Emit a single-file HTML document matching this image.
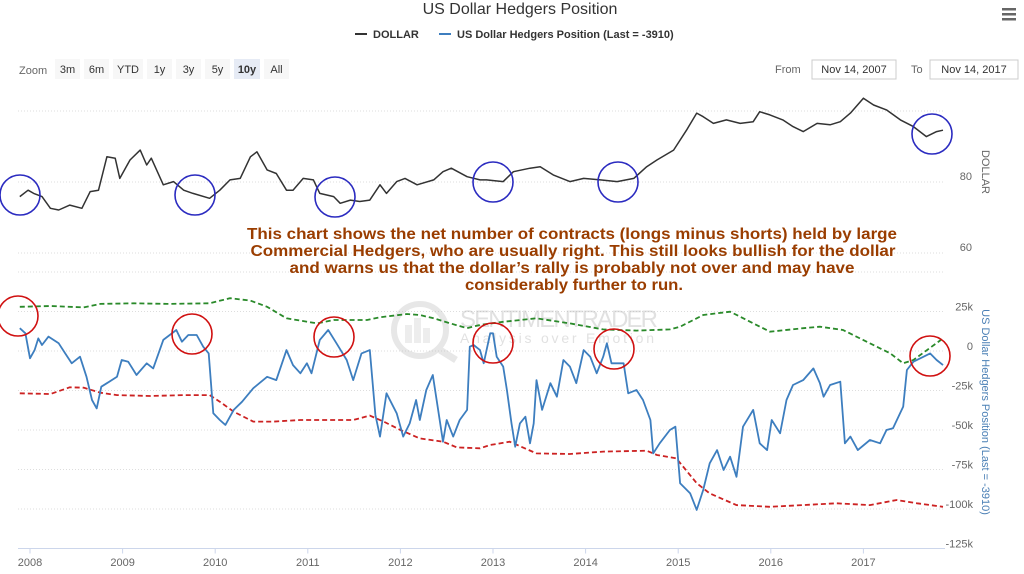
<!DOCTYPE html>
<html><head><meta charset="utf-8">
<style>
html,body{margin:0;padding:0;background:#fff;}
body{width:1024px;height:569px;overflow:hidden;font-family:"Liberation Sans",Arial,sans-serif;}
svg text{font-family:"Liberation Sans",Arial,sans-serif;}
</style></head>
<body>
<svg id="chart" width="1024" height="569" viewBox="0 0 1024 569" xmlns="http://www.w3.org/2000/svg">
  <text x="520" y="14" text-anchor="middle" font-size="16" fill="#333">US Dollar Hedgers Position</text>
  <g fill="#666">
    <rect x="1002" y="8" width="14" height="2.5"/><rect x="1002" y="13" width="14" height="2.5"/><rect x="1002" y="18" width="14" height="2.5"/>
  </g>
  <g>
    <line x1="355" y1="34" x2="367" y2="34" stroke="#333" stroke-width="2"/>
    <text x="373" y="38" font-size="11" font-weight="bold" fill="#333">DOLLAR</text>
  </g>
  <g>
    <line x1="439" y1="34" x2="451" y2="34" stroke="#3d7ebf" stroke-width="2"/>
    <text x="457" y="38" font-size="11" font-weight="bold" fill="#333">US Dollar Hedgers Position (Last = -3910)</text>
  </g>
  <text x="19" y="74" font-size="11" fill="#666">Zoom</text>
  <g id="zoombtns"></g>
  <text x="775" y="73" font-size="11" fill="#666">From</text>
  <rect x="812" y="60" width="84" height="19" fill="#fff" stroke="#ccc"/>
  <text x="854" y="73" text-anchor="middle" font-size="11" fill="#333">Nov 14, 2007</text>
  <text x="911" y="73" font-size="11" fill="#666">To</text>
  <rect x="930" y="60" width="88" height="19" fill="#fff" stroke="#ccc"/>
  <text x="974" y="73" text-anchor="middle" font-size="11" fill="#333">Nov 14, 2017</text>
  <g id="grid"></g>
  <g id="watermark" opacity="0.35">
    <circle cx="420" cy="330" r="26" fill="none" stroke="#bbb" stroke-width="6"/>
    <line x1="440" y1="350" x2="456" y2="360" stroke="#bbb" stroke-width="7"/>
    <rect x="405" y="325" width="7" height="18" fill="#ccc"/><rect x="414" y="318" width="7" height="25" fill="#ccc"/><rect x="423" y="328" width="7" height="15" fill="#ccc"/>
    <text x="460" y="327" font-size="24" fill="#aaa" textLength="198">SENTIMENTRADER</text>
    <text x="460" y="343" font-size="14" fill="#aaa" textLength="198" letter-spacing="4">Analysis over Emotion</text>
  </g>
  <g id="series"></g>
  <g id="axes"></g>
  <g id="annot" fill="none" stroke-width="1.6"></g>
  <g font-size="16" font-weight="bold" fill="#9a3d00" text-anchor="middle">
    <text x="572" y="239" textLength="650" lengthAdjust="spacingAndGlyphs">This chart shows the net number of contracts (longs minus shorts) held by large</text>
    <text x="573" y="256" textLength="645" lengthAdjust="spacingAndGlyphs">Commercial Hedgers, who are usually right. This still looks bullish for the dollar</text>
    <text x="572" y="273" textLength="565" lengthAdjust="spacingAndGlyphs">and warns us that the dollar’s rally is probably not over and may have</text>
    <text x="574" y="290" textLength="218" lengthAdjust="spacingAndGlyphs">considerably further to run.</text>
  </g>
</svg>
<script>
const dollarT=[2007.89,2007.98,2008.04,2008.13,2008.22,2008.31,2008.43,2008.56,2008.65,2008.74,2008.83,2008.92,2008.97,2009.08,2009.19,2009.26,2009.31,2009.44,2009.55,2009.66,2009.76,2009.94,2010.05,2010.16,2010.27,2010.38,2010.45,2010.56,2010.66,2010.77,2010.84,2010.95,2011.06,2011.13,2011.28,2011.35,2011.46,2011.56,2011.67,2011.78,2011.85,2011.96,2012.05,2012.18,2012.36,2012.46,2012.55,2012.72,2012.86,2012.93,2013.11,2013.22,2013.40,2013.51,2013.65,2013.83,2013.98,2014.16,2014.34,2014.52,2014.66,2014.77,2014.95,2015.09,2015.20,2015.27,2015.38,2015.52,2015.67,2015.81,2015.88,2015.99,2016.13,2016.24,2016.35,2016.50,2016.64,2016.75,2016.86,2017.00,2017.11,2017.25,2017.40,2017.54,2017.68,2017.79,2017.86];
const dollarV=[75.9,77.7,76.8,75.9,72.6,72.1,73.5,72.6,77.3,77.7,87.1,86.7,81.0,86.2,89.0,84.8,86.7,79.2,80.1,77.7,76.8,75.4,77.7,80.6,81.0,87.1,88.5,83.4,82.4,77.7,77.7,81.0,80.6,76.8,75.9,74.0,74.9,74.5,74.9,79.2,76.8,80.1,81.0,79.2,80.6,82.9,83.9,81.5,80.6,80.6,80.1,82.9,83.9,84.3,82.0,80.1,81.0,80.6,80.1,81.0,84.3,86.2,89.0,94.6,99.4,98.4,96.5,97.5,96.5,97.0,99.8,98.9,97.5,95.6,94.2,96.5,96.1,97.0,99.4,103.6,101.7,100.3,97.5,95.6,92.8,94.2,94.6];
const hedgeT=[2007.89,2007.95,2008.00,2008.05,2008.09,2008.13,2008.20,2008.31,2008.38,2008.45,2008.54,2008.61,2008.67,2008.72,2008.77,2008.83,2008.94,2008.99,2009.06,2009.15,2009.26,2009.33,2009.44,2009.58,2009.64,2009.71,2009.80,2009.87,2009.93,2009.98,2010.05,2010.11,2010.20,2010.29,2010.41,2010.56,2010.66,2010.77,2010.84,2010.92,2010.99,2011.04,2011.13,2011.22,2011.31,2011.42,2011.49,2011.58,2011.67,2011.73,2011.78,2011.85,2011.96,2012.03,2012.10,2012.17,2012.21,2012.28,2012.35,2012.43,2012.46,2012.50,2012.57,2012.64,2012.72,2012.75,2012.79,2012.86,2012.90,2012.97,2013.00,2013.04,2013.11,2013.15,2013.20,2013.24,2013.29,2013.35,2013.40,2013.44,2013.47,2013.53,2013.62,2013.69,2013.76,2013.83,2013.90,2013.98,2014.05,2014.12,2014.19,2014.23,2014.28,2014.41,2014.46,2014.55,2014.62,2014.70,2014.73,2014.80,2014.91,2014.97,2015.02,2015.13,2015.20,2015.27,2015.34,2015.42,2015.49,2015.56,2015.63,2015.70,2015.81,2015.88,2015.96,2016.01,2016.10,2016.17,2016.24,2016.35,2016.46,2016.53,2016.57,2016.64,2016.75,2016.80,2016.86,2016.94,2017.07,2017.18,2017.25,2017.32,2017.43,2017.47,2017.54,2017.65,2017.72,2017.79,2017.86];
const hedgeV=[14.4,11.2,-4.6,0.6,8.0,3.8,9.1,4.9,-1.5,-7.8,-3.6,-16.3,-31.0,-36.3,-22.6,-20.4,-16.3,-5.7,-6.8,-15.2,-7.8,-11.0,7.0,13.3,5.9,10.1,10.1,2.7,-1.5,-39.4,-43.7,-46.8,-37.3,-32.1,-23.6,-16.3,-18.4,0.6,-8.9,-14.1,-7.8,-14.1,7.0,13.3,4.9,-5.7,-18.4,-1.5,0.6,-40.5,-54.2,-26.8,-39.4,-54.2,-45.8,-31.0,-43.7,-24.7,-15.2,-45.8,-57.4,-43.7,-54.2,-43.7,-37.3,2.7,3.8,0.6,-7.8,11.2,11.2,-3.6,-9.9,-24.7,-45.8,-60.6,-45.8,-41.6,-58.4,-45.8,-18.4,-37.3,-20.4,-28.9,-5.7,-9.9,-20.4,0.6,-3.6,-14.1,-3.6,4.9,-7.8,-7.8,-26.8,-24.7,-31.0,-43.7,-64.8,-58.4,-50.0,-47.9,-83.7,-90.1,-100.6,-88.0,-71.1,-62.7,-75.3,-66.9,-79.6,-47.9,-37.3,-58.4,-62.7,-43.7,-52.1,-31.0,-21.5,-18.4,-11.0,-20.4,-28.9,-21.5,-19.4,-58.4,-54.2,-62.7,-56.3,-58.4,-50.0,-48.9,-35.2,-12.0,-6.8,-3.6,-1.5,-5.7,-8.9];
const upperT=[2007.89,2008.22,2008.58,2008.76,2009.12,2009.48,2009.94,2010.16,2010.38,2010.56,2010.77,2011.10,2011.28,2011.64,2011.78,2012.07,2012.21,2012.36,2012.54,2012.72,2012.86,2013.11,2013.47,2013.83,2014.19,2014.55,2014.91,2015.02,2015.27,2015.56,2015.74,2015.99,2016.35,2016.53,2016.78,2017.07,2017.29,2017.43,2017.54,2017.86];
const upperV=[28.0,28.5,27.6,29.8,30.2,29.8,30.2,33.4,31.9,28.0,20.7,17.5,19.6,19.6,21.3,23.4,22.8,20.7,17.5,14.4,16.5,18.5,20.7,17.5,13.7,12.9,13.7,15.4,22.8,24.9,19.6,12.2,14.4,15.4,13.3,4.9,-1.5,-7.8,-5.7,8.0];
const lowerT=[2007.89,2008.22,2008.43,2008.58,2008.76,2008.94,2009.30,2009.66,2009.94,2010.05,2010.20,2010.41,2010.63,2010.92,2011.28,2011.49,2011.67,2011.82,2012.00,2012.21,2012.46,2012.61,2012.86,2012.97,2013.18,2013.47,2013.83,2014.19,2014.66,2014.77,2014.98,2015.20,2015.34,2015.63,2015.99,2016.71,2017.07,2017.36,2017.58,2017.86];
const lowerV=[-26.8,-27.2,-23.0,-23.2,-26.4,-27.9,-28.5,-27.9,-27.9,-32.1,-38.4,-44.7,-44.7,-43.7,-43.7,-43.7,-40.9,-44.7,-50.0,-55.3,-57.4,-61.0,-61.6,-59.5,-57.4,-64.8,-65.2,-63.7,-63.1,-65.8,-67.9,-83.7,-90.1,-97.5,-98.6,-96.4,-97.5,-94.3,-96.4,-98.6];
const yearTicks=[2008,2009,2010,2011,2012,2013,2014,2015,2016,2017];
const dollarTicks=[60,80,100];
const dollarTickLabels=["60","80",""];
const hedgeTicks=[50,25,0,-25,-50,-75,-100,-125];
const hedgeTickLabels=["","25k","0","-25k","-50k","-75k","-100k","-125k"];
const zoomLabels=["3m","6m","YTD","1y","3y","5y","10y","All"];

const NS="http://www.w3.org/2000/svg";
function xs(t){return 30+(t-2008)*92.6;}
function yD(v){return 182-(v-80)*3.55;}
function yH(v){return 351-v*1.58;}
function mk(tag,attrs,parent){const e=document.createElementNS(NS,tag);for(const k in attrs)e.setAttribute(k,attrs[k]);parent.appendChild(e);return e;}
const X0=18,X1=945;
const grid=document.getElementById('grid');
dollarTicks.forEach((v,i)=>{
  const l=mk('line',{x1:X0,x2:X1,y1:yD(v),y2:yD(v),stroke:'#ddd','stroke-dasharray':'1,2'},grid);
  
  
});
hedgeTicks.forEach((v,i)=>{
  if(v===-125)return;
  const l=mk('line',{x1:X0,x2:X1,y1:yH(v),y2:yH(v),stroke:'#ddd','stroke-dasharray':'1,2'},grid);
  
  
});
const axes=document.getElementById('axes');
const xl=mk('line',{x1:X0,x2:X1,y1:yH(-125),y2:yH(-125),stroke:'#ccd6eb'},axes);


yearTicks.forEach(y=>{
  mk('line',{x1:xs(y),x2:xs(y),y1:yH(-125),y2:yH(-125)+5,stroke:'#ccd6eb'},axes);
  const t=mk('text',{x:xs(y),y:566,'text-anchor':'middle','font-size':'11',fill:'#666'},axes);
  t.textContent=y;
  
  
});
dollarTicks.forEach((v,i)=>{
  const t=mk('text',{x:972,y:yD(v)-2,'text-anchor':'end','font-size':'11',fill:'#666'},axes);
  t.textContent=dollarTickLabels[i];
  
  
});
hedgeTicks.forEach((v,i)=>{
  const t=mk('text',{x:973,y:yH(v)-1,'text-anchor':'end','font-size':'11',fill:'#666'},axes);
  t.textContent=hedgeTickLabels[i];
  
  
});
let t1=mk('text',{x:0,y:0,transform:'translate(982,172) rotate(90)','text-anchor':'middle','font-size':'11',fill:'#666'},axes);
t1.textContent='DOLLAR';


let t2=mk('text',{x:0,y:0,transform:'translate(982,412) rotate(90)','text-anchor':'middle','font-size':'11',fill:'#4a7fb5'},axes);
t2.textContent='US Dollar Hedgers Position (Last = -3910)';



function path(T,V,yf){return T.map((t,i)=>(i?'L':'M')+xs(t).toFixed(1)+','+yf(V[i]).toFixed(1)).join(' ');}
const ser=document.getElementById('series');
let p=mk('path',{d:path(upperT,upperV,yH),fill:'none',stroke:'#2a8a2a','stroke-width':'1.8','stroke-dasharray':'5,3'},ser);


p=mk('path',{d:path(lowerT,lowerV,yH),fill:'none',stroke:'#cc2222','stroke-width':'1.8','stroke-dasharray':'5,3'},ser);


p=mk('path',{d:path(hedgeT,hedgeV,yH),fill:'none',stroke:'#3d7ebf','stroke-width':'1.8','stroke-linejoin':'round'},ser);


p=mk('path',{d:path(dollarT,dollarV,yD),fill:'none',stroke:'#333','stroke-width':'1.5','stroke-linejoin':'round'},ser);



const an=document.getElementById('annot');
[[20,195],[195,195],[335,197],[493,182],[618,182],[932,134]].forEach(c=>{
  const e=mk('circle',{cx:c[0],cy:c[1],r:20,stroke:'#2b2bc0'},an);
  
  
});
[[18,316],[192,334],[334,337],[493,343],[614,349],[930,356]].forEach(c=>{
  const e=mk('circle',{cx:c[0],cy:c[1],r:20,stroke:'#d01010'},an);
  
  
});

const zb=document.getElementById('zoombtns');
let zx=55;
zoomLabels.forEach(l=>{
  const w=l==='YTD'?30:(l==='10y'?26:25);
  const r=mk('rect',{x:zx,y:59,width:w,height:20,fill:l==='10y'?'#e6ebf5':'#f7f7f7'},zb);
  
  
  const t=mk('text',{x:zx+w/2,y:73,'text-anchor':'middle','font-size':'11',fill:'#333','font-weight':l==='10y'?'bold':'normal'},zb);
  t.textContent=l;
  zx+=w+4;
});
</script>
</body></html>
